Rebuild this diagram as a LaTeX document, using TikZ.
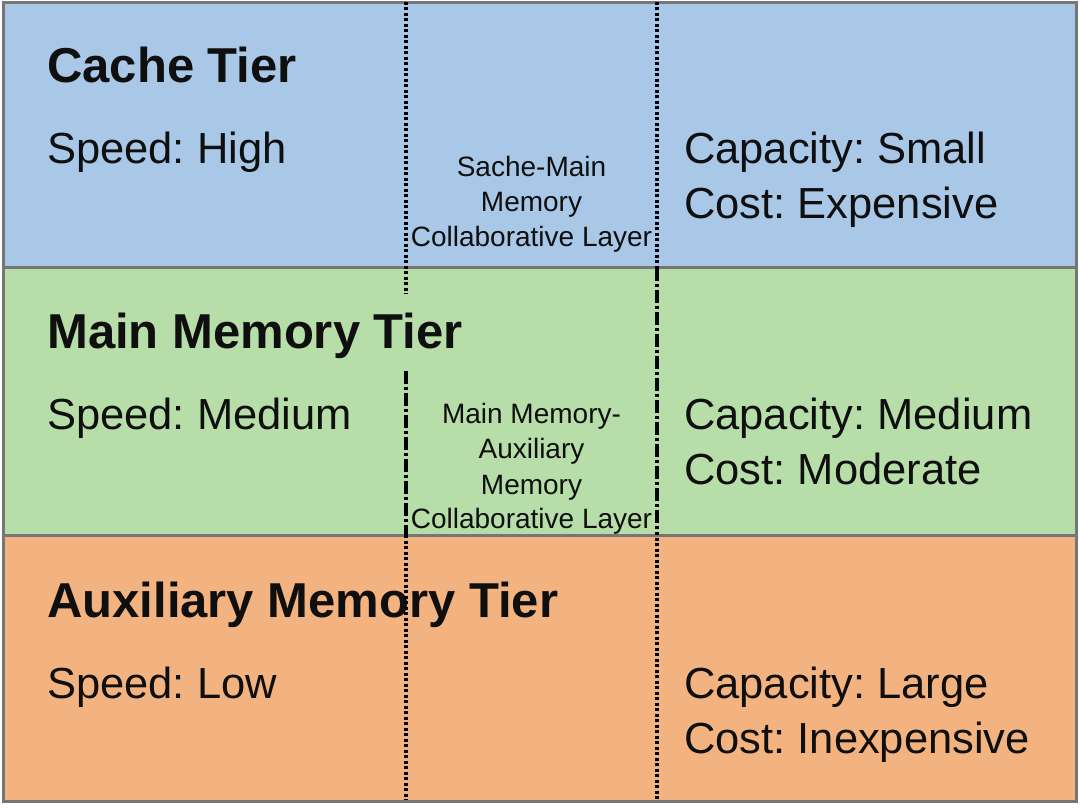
\documentclass[tikz,border=0pt]{standalone}
\usepackage{fontspec}
\setmainfont{Liberation Sans}
\frenchspacing
\definecolor{tierblue}{RGB}{169,200,232}
\definecolor{tiergreen}{RGB}{183,222,168}
\definecolor{tierorange}{RGB}{243,179,128}
\definecolor{framegray}{RGB}{118,118,118}
\definecolor{ink}{RGB}{15,15,15}
\begin{document}
\frenchspacing
\begin{tikzpicture}[x=1pt,y=-1pt,
  title/.style={anchor=base west, inner sep=0pt, text=ink, font=\fontsize{49}{52}\selectfont\bfseries},
  info/.style={anchor=base west, inner sep=0pt, text=ink, font=\fontsize{43.5}{50}\selectfont},
  layertext/.style={anchor=base, inner sep=0pt, text=ink, font=\fontsize{28}{35}\selectfont},
  dotline/.style={draw=black, line width=3.5pt, dash pattern=on 3pt off 2.5pt},
  dashdotline/.style={draw=black, line width=3.5pt, dash pattern=on 13pt off 3pt on 3pt off 3pt},
  sep/.style={draw=framegray, line width=3pt}]
\useasboundingbox (0,0) rectangle (1080,810);
\fill[white] (0,0) rectangle (1080,810);
% bands
\fill[tierblue] (3,3) rectangle (1076,268);
\fill[tiergreen] (3,268) rectangle (1076,535);
\fill[tierorange] (3,535) rectangle (1076,801);
\draw[sep] (3,268) -- (1076,268);
\draw[sep] (3,535) -- (1076,535);
\draw[sep] (3,3) rectangle (1076,801);
% left column
\node[title] (t1) at (47,83) {Cache Tier};
\node[info] (sp1) at (47,164) {Speed: High};
\node[title] (t2) at (47,349) {Main Memory Tier};
\node[info] (sp2) at (47,430) {Speed: Medium};
\node[title] (t3) at (47,617) {Auxiliary Memory Tier};
\node[info] (sp3) at (47,698) {Speed: Low};
% right column
\node[info] (ca1) at (684,164) {Capacity: Small};
\node[info] (co1) at (684,219) {Cost: Expensive};
\node[info] (ca2) at (684,430) {Capacity: Medium};
\node[info] (co2) at (684,485) {Cost: Moderate};
\node[info] (ca3) at (684,698) {Capacity: Large};
\node[info] (co3) at (684,753) {Cost: Inexpensive};
% middle layers
\node[layertext] (m1a) at (531.5,177) {Sache-Main};
\node[layertext] (m1b) at (531.5,212) {Memory};
\node[layertext] (m1c) at (531.5,247) {Collaborative Layer};
\node[layertext] (m2a) at (531.5,424) {Main Memory-};
\node[layertext] (m2b) at (531.5,459) {Auxiliary};
\node[layertext] (m2c) at (531.5,494) {Memory};
\node[layertext] (m2d) at (531.5,528) {Collaborative Layer};
% vertical boundaries
\coordinate (la) at (406,2);
\coordinate (lb) at (406,294);
\coordinate (lc) at (406,371);
\coordinate (ld) at (406,535);
\coordinate (le) at (406,800);
\coordinate (ra) at (657,2);
\coordinate (rb) at (657,268);
\coordinate (rc) at (657,532);
\coordinate (rd) at (657,800);
\draw[dotline] (la) -- (lb);
\draw[dashdotline] (lc) -- (ld);
\draw[dotline] (ld) -- (le);
\draw[dotline] (ra) -- (rb);
\draw[dashdotline] (rb) -- (rc);
\draw[dotline] (rc) -- (rd);
\end{tikzpicture}
\end{document}
